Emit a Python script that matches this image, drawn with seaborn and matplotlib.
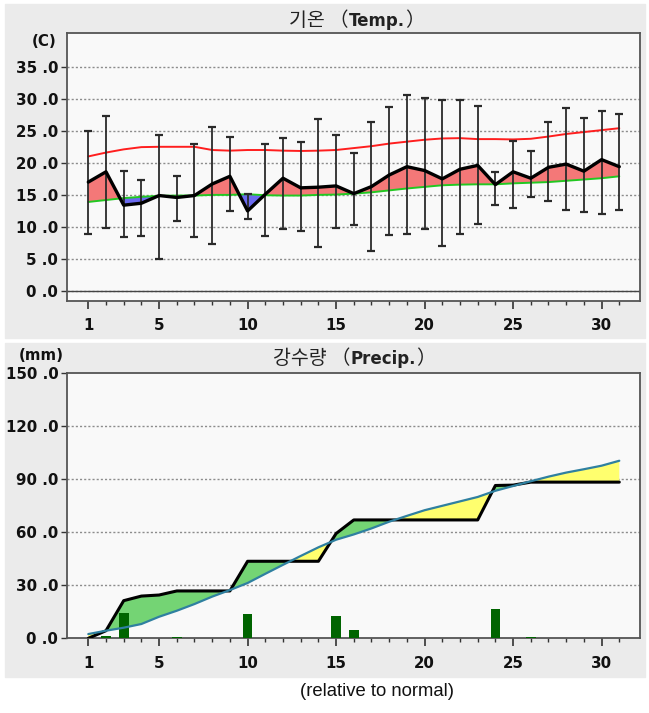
import numpy as np
import pandas as pd
import matplotlib
matplotlib.use("Agg")
import matplotlib.pyplot as plt
from matplotlib.patches import Rectangle
import seaborn as sns

# ---------------- data ----------------
days = list(range(1, 32))
major_days = [1, 5, 10, 15, 20, 25, 30]

temp_mean = [17.0, 18.6, 13.4, 13.7, 14.9, 14.6, 14.9, 16.7, 17.9, 12.5, 15.1,
             17.6, 16.1, 16.2, 16.4, 15.2, 16.3, 18.1, 19.4, 18.8, 17.5, 19.0,
             19.6, 16.6, 18.6, 17.6, 19.3, 19.8, 18.7, 20.5, 19.4]
temp_max = [25.0, 27.3, 18.7, 17.4, 24.4, 17.9, 23.0, 25.6, 24.1, 15.1, 23.0,
            23.8, 23.2, 26.9, 24.3, 21.5, 26.4, 28.7, 30.6, 30.1, 29.8, 29.8,
            28.9, 18.6, 23.4, 21.9, 26.3, 28.5, 27.0, 28.1, 27.6]
temp_min = [8.9, 9.8, 8.5, 8.6, 5.0, 11.0, 8.5, 7.3, 12.5, 11.3, 8.6,
            9.7, 9.3, 6.8, 9.9, 10.3, 6.3, 8.8, 8.9, 9.7, 7.0, 8.9,
            10.5, 13.4, 12.9, 14.7, 14.1, 12.6, 12.3, 12.0, 12.7]
normal_max = [21.0, 21.6, 22.1, 22.45, 22.5, 22.5, 22.5, 22.0, 21.9, 22.0, 22.0,
              21.9, 21.85, 21.9, 22.0, 22.3, 22.6, 23.0, 23.3, 23.6, 23.8, 23.85,
              23.7, 23.7, 23.65, 23.75, 24.1, 24.5, 24.8, 25.1, 25.4]
normal_mean = [13.9, 14.2, 14.5, 14.7, 14.85, 14.9, 14.9, 15.0, 15.0, 15.1, 14.95,
               14.9, 14.9, 15.0, 15.05, 15.2, 15.4, 15.7, 16.0, 16.25, 16.5, 16.6,
               16.65, 16.65, 16.8, 16.9, 17.0, 17.2, 17.4, 17.6, 17.9]

precip_daily = [0.3, 1.3, 14.1, 0.4, 0.0, 0.5, 0.0, 0.0, 0.0, 13.6, 0.0,
                0.0, 0.0, 0.0, 12.6, 4.5, 0.0, 0.0, 0.0, 0.0, 0.0, 0.0,
                0.0, 16.6, 0.0, 0.5, 0.0, 0.0, 0.0, 0.0, 0.0]
precip_cum = [0.0, 4.3, 21.3, 23.9, 24.5, 26.8, 26.8, 26.8, 26.8, 43.6, 43.6,
              43.6, 43.6, 43.6, 59.3, 67.0, 67.0, 67.0, 67.0, 67.0, 67.0, 67.0,
              67.0, 86.5, 86.7, 88.4, 88.4, 88.4, 88.4, 88.4, 88.4]
normal_cum = [2.4, 4.3, 6.0, 8.1, 12.2, 15.6, 19.4, 23.6, 27.3, 31.3, 36.5,
              41.6, 46.6, 51.5, 55.8, 58.8, 62.2, 66.0, 69.3, 72.5, 75.0, 77.5,
              80.0, 83.5, 86.2, 88.9, 91.5, 93.8, 95.7, 97.7, 100.5]

temp_yticks = [0, 5, 10, 15, 20, 25, 30, 35]
temp_yticklabels = ["0 .0", "5 .0", "10 .0", "15 .0", "20 .0", "25 .0", "30 .0", "35 .0"]
prec_yticks = [0, 30, 60, 90, 120, 150]
prec_yticklabels = ["0 .0", "30 .0", "60 .0", "90 .0", "120 .0", "150 .0"]

title_temp_kr = "기온 （"
title_temp_en = "Temp."
title_prec_kr = "강수량 （"
title_prec_en = "Precip."
close_paren = "）"
unit_temp = "(C)"
unit_prec = "(mm)"
footnote = "(relative to normal)"

# ---------------- style ----------------
sns.set_theme(style="white")
plt.rcParams["font.family"] = ["DejaVu Sans", "Noto Sans CJK KR"]

W, H = 649, 713
fig = plt.figure(figsize=(W / 100, H / 100), dpi=100, facecolor="white")

PANEL = "#ebebeb"
fig.patches.append(Rectangle((5 / W, 1 - 338 / H), 640 / W, 334 / H,
                             transform=fig.transFigure, color=PANEL, zorder=-10))
fig.patches.append(Rectangle((5 / W, 1 - 677 / H), 640 / W, 334 / H,
                             transform=fig.transFigure, color=PANEL, zorder=-10))

ax1 = fig.add_axes([66.7 / W, 1 - 300.7 / H, 573.3 / W, 267.4 / H])
ax2 = fig.add_axes([66.7 / W, 1 - 638.3 / H, 573.3 / W, 265.0 / H])
ax1.set_zorder(2)
ax2.set_zorder(2)

d = np.array(days, dtype=float)
tm = np.array(temp_mean)
nm = np.array(normal_mean)

TICKFS = 10.8


def style_axes(ax):
    ax.set_facecolor("#f9f9f9")
    for s in ax.spines.values():
        s.set_color("#555555")
        s.set_linewidth(1.3)
    ax.set_xlim(-0.22, 32.17)
    ax.set_xticks(major_days)
    ax.set_xticklabels([str(v) for v in major_days])
    ax.set_xticks(days, minor=True)
    ax.tick_params(axis="x", which="major", length=5.5, width=1.2, color="#333333",
                   pad=7, labelsize=TICKFS, bottom=True)
    ax.tick_params(axis="x", which="minor", length=2.8, width=1.0, color="#333333",
                   bottom=True)
    ax.tick_params(axis="y", which="major", length=4, width=1.0, color="#333333",
                   pad=2, labelsize=TICKFS, left=True)
    for lab in ax.get_xticklabels() + ax.get_yticklabels():
        lab.set_fontweight("bold")
        lab.set_color("#111111")
    ax.set_xlabel("")
    ax.set_ylabel("")


# ---------------- temperature ----------------
ax1.set_ylim(-1.5, 40.2)
ax1.set_yticks(temp_yticks)
ax1.set_yticklabels(temp_yticklabels)
for yv in temp_yticks:
    ax1.axhline(yv, color="#8c8c8c", lw=1.0, ls=(0, (1.5, 1.5)), zorder=1)
ax1.axhline(0, color="#444444", lw=1.0, zorder=1.5)

ax1.fill_between(d, tm, nm, where=tm >= nm, interpolate=True, color="#f47878",
                 lw=0, zorder=2)
ax1.fill_between(d, tm, nm, where=tm <= nm, interpolate=True, color="#6a6af0",
                 lw=0, zorder=2)
sns.lineplot(x=days, y=normal_max, color="#ff1e1e", lw=1.4, ax=ax1, zorder=3)
sns.lineplot(x=days, y=normal_mean, color="#22c822", lw=1.4, ax=ax1, zorder=3)
ax1.errorbar(d, tm, yerr=[tm - np.array(temp_min), np.array(temp_max) - tm],
             fmt="none", ecolor="#2a2a2a", elinewidth=1.3, capsize=2.8,
             capthick=1.6, zorder=4)
sns.lineplot(x=days, y=temp_mean, color="black", lw=2.4, ax=ax1, zorder=5)
style_axes(ax1)

# ---------------- precipitation ----------------
pc = np.array(precip_cum)
ncm = np.array(normal_cum)
ax2.set_ylim(0, 150)
ax2.set_yticks(prec_yticks)
ax2.set_yticklabels(prec_yticklabels)
for yv in prec_yticks[1:-1]:
    ax2.axhline(yv, color="#8c8c8c", lw=1.0, ls=(0, (1.5, 1.5)), zorder=1)

ax2.fill_between(d, pc, ncm, where=pc >= ncm, interpolate=True, color="#74d474",
                 lw=0, zorder=2)
ax2.fill_between(d, pc, ncm, where=pc <= ncm, interpolate=True, color="#ffff6e",
                 lw=0, zorder=2)
ax2.bar(d, precip_daily, width=0.55, color="#006400", edgecolor="none",
        linewidth=0, zorder=3)
sns.lineplot(x=days, y=precip_cum, color="black", lw=2.2, ax=ax2, zorder=4)
sns.lineplot(x=days, y=normal_cum, color="#2f80a0", lw=1.6, ax=ax2, zorder=5)
style_axes(ax2)

# ---------------- texts ----------------
fig.text(44 / W, 1 - 42 / H, unit_temp, ha="center", va="center",
         fontsize=TICKFS, fontweight="bold", color="#111111")
fig.text(41 / W, 1 - 355 / H, unit_prec, ha="center", va="center",
         fontsize=TICKFS, fontweight="bold", color="#111111")
fig.text(377 / W, 1 - 692 / H, footnote, ha="center", va="center",
         fontsize=13.3, family=["Liberation Sans"], color="#111111")


def title(x0, ybase, kr, en):
    fig.canvas.draw()
    r = fig.canvas.get_renderer()
    t1 = fig.text(x0 / W, 1 - ybase / H, kr, ha="left", va="baseline",
                  fontsize=14, family=["Noto Sans CJK KR"], color="#222222")
    x1 = t1.get_window_extent(r).x1
    t2 = fig.text(x1 / W, 1 - ybase / H, en, ha="left", va="baseline",
                  fontsize=12, fontweight="bold", family=["DejaVu Sans"],
                  color="#222222")
    x2 = t2.get_window_extent(r).x1
    fig.text(x2 / W, 1 - ybase / H, close_paren, ha="left", va="baseline",
             fontsize=14, family=["Noto Sans CJK KR"], color="#222222")


title(289, 26, title_temp_kr, title_temp_en)
title(273, 364, title_prec_kr, title_prec_en)

fig.savefig("out.png", dpi=100, facecolor="white")
